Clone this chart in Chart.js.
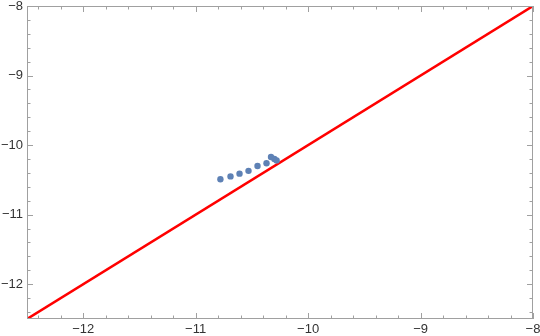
<!DOCTYPE html>
<html>
<head>
<meta charset="utf-8">
<script src="https://cdn.jsdelivr.net/npm/chart.js@4"></script>
<style>
  html, body { margin: 0; padding: 0; background: #fff; }
  #wrap { width: 540px; height: 336px; position: relative; }
</style>
</head>
<body>
<div id="wrap"><canvas id="grafico"></canvas></div>
<script>
// dados
const pointsX = [-10.78, -10.69, -10.61, -10.53, -10.45, -10.37, -10.33, -10.30, -10.28];
const pointsY = [-10.49, -10.45, -10.41, -10.37, -10.30, -10.26, -10.17, -10.20, -10.22];
const lineX = [-12.5, -8];
const lineY = [-12.5, -8];
const majorTicks = [-12, -11, -10, -9, -8];
const minorTicks = [-12.4, -12.2, -11.8, -11.6, -11.4, -11.2, -10.8, -10.6, -10.4, -10.2,
  -9.8, -9.6, -9.4, -9.2, -8.8, -8.6, -8.4, -8.2];

const fmt = v => (v < 0 ? "\u2212" + Math.abs(v) : String(v));

// moldura com marcas nos quatro lados
const frameTicks = {
  id: "frameTicks",
  afterDraw(chart) {
    const { ctx, chartArea: a, scales } = chart;
    ctx.save();
    ctx.strokeStyle = "#a0a0a0";
    ctx.lineWidth = 1;
    ctx.strokeRect(a.left + 0.5, a.top + 0.5, a.right - a.left - 1, a.bottom - a.top - 1);
    const mark = (vals, len) => {
      vals.forEach(v => {
        const px = Math.round(scales.x.getPixelForValue(v)) + 0.5;
        const py = Math.round(scales.y.getPixelForValue(v)) + 0.5;
        ctx.beginPath();
        ctx.moveTo(px, a.bottom); ctx.lineTo(px, a.bottom - len);
        ctx.moveTo(px, a.top); ctx.lineTo(px, a.top + len);
        ctx.moveTo(a.left, py); ctx.lineTo(a.left + len, py);
        ctx.moveTo(a.right, py); ctx.lineTo(a.right - len, py);
        ctx.stroke();
      });
    };
    mark(majorTicks, 6);
    mark(minorTicks, 3.5);
    ctx.restore();
  }
};

const setTicks = scale => { scale.ticks = majorTicks.map(v => ({ value: v })); };
const noGrid = { display: true, drawOnChartArea: false, drawTicks: false, tickLength: 0, color: "rgba(0,0,0,0)" };

new Chart(document.getElementById("grafico"), {
  type: "scatter",
  data: {
    datasets: [
      {
        data: pointsX.map((x, i) => ({ x: x, y: pointsY[i] })),
        backgroundColor: "#5e81b5",
        borderWidth: 0,
        pointRadius: 3.2,
        order: 0
      },
      {
        type: "line",
        data: lineX.map((x, i) => ({ x: x, y: lineY[i] })),
        borderColor: "#ff0000",
        borderWidth: 2.5,
        pointRadius: 0,
        fill: false,
        order: 1
      }
    ]
  },
  options: {
    responsive: true,
    maintainAspectRatio: false,
    animation: false,
    layout: { padding: { top: 6, right: 7, left: 0, bottom: 0 } },
    plugins: { legend: { display: false }, tooltip: { enabled: false } },
    scales: {
      x: {
        type: "linear",
        min: -12.5,
        max: -8,
        afterBuildTicks: setTicks,
        afterFit: s => { s.height = 17; s.paddingLeft = 0; s.paddingRight = 0; },
        grid: noGrid,
        border: { display: false },
        ticks: {
          callback: fmt,
          padding: 3,
          color: "#333",
          font: { family: "Liberation Sans", size: 13 },
          maxRotation: 0
        }
      },
      y: {
        type: "linear",
        min: -12.5,
        max: -8,
        afterBuildTicks: setTicks,
        afterFit: s => { s.width = 27; s.paddingTop = 0; s.paddingBottom = 0; },
        grid: noGrid,
        border: { display: false },
        ticks: {
          callback: fmt,
          padding: 4,
          color: "#333",
          font: { family: "Liberation Sans", size: 13 }
        }
      }
    }
  },
  plugins: [frameTicks]
});
</script>
</body>
</html>
